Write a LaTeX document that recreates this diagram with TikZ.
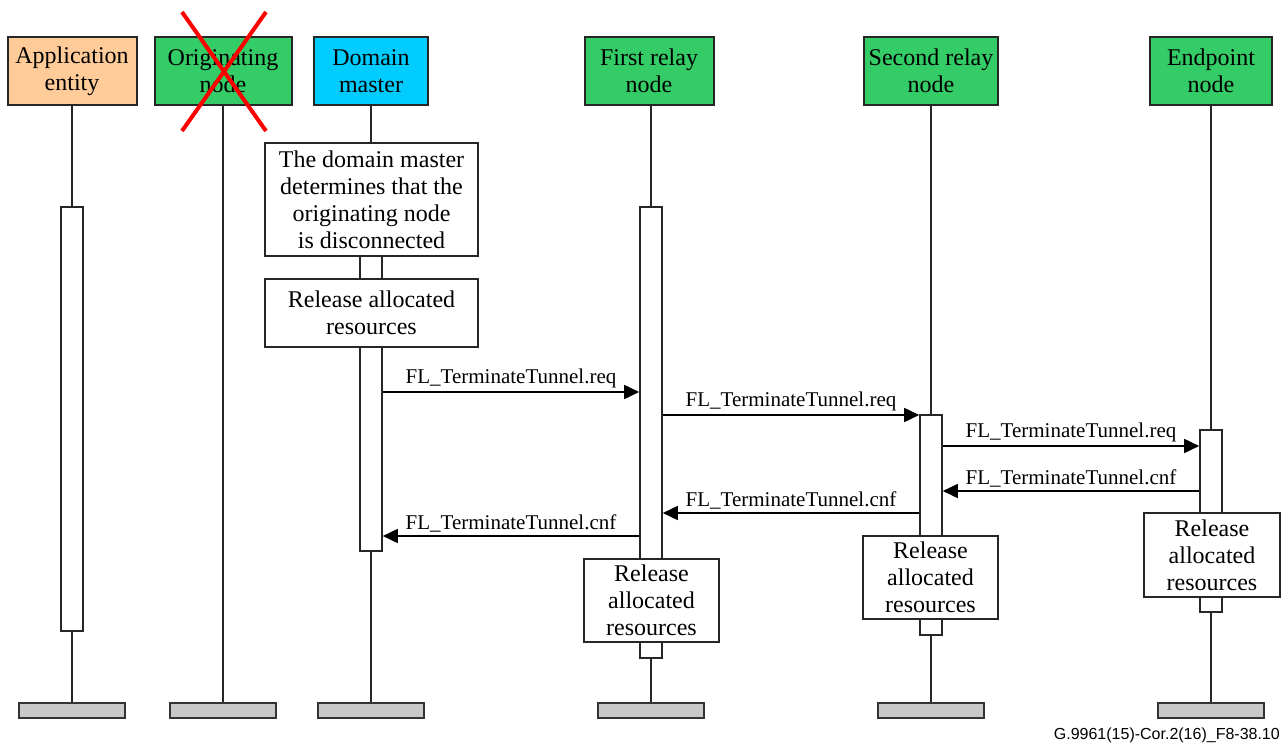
\documentclass[tikz,border=0pt]{standalone}
\usepackage{fontspec}
\setmainfont{Liberation Serif}
\newfontfamily\footfont{Liberation Sans}
\usetikzlibrary{arrows.meta,positioning}
\definecolor{peach}{HTML}{FFCC99}
\definecolor{nodegreen}{HTML}{33CC66}
\definecolor{dmcyan}{HTML}{00CCFF}
\definecolor{bargray}{HTML}{C8C8C8}
\begin{document}
\begin{tikzpicture}[x=1pt,y=-1pt,
  hdr/.style={draw=black!85, line width=2pt, minimum height=68pt, align=center,
    font=\fontsize{24}{27}\selectfont, inner sep=0pt},
  life/.style={draw=black!85, line width=1.6pt},
  act/.style={draw=black!85, fill=white, line width=1.6pt, minimum width=22pt, inner sep=0pt},
  note/.style={draw=black!85, fill=white, line width=2pt, align=center,
    font=\fontsize{24}{27}\selectfont, inner sep=0pt},
  endbar/.style={draw=black!80, fill=bargray, line width=1.8pt, minimum width=106pt, minimum height=15pt, inner sep=0pt},
  msg/.style={draw=black, line width=1.7pt, -{Triangle[length=15pt,width=14pt]}},
  lbl/.style={above=3pt, font=\fontsize{21}{23}\selectfont, inner sep=0pt}
]
\useasboundingbox (0,0) rectangle (1288,744);

% header boxes
\node[hdr, fill=peach, minimum width=129pt] (app) at (72,71) {Application\\entity};
\node[hdr, fill=nodegreen, minimum width=137pt] (orig) at (223,71) {Originating\\node};
\node[hdr, fill=dmcyan, minimum width=114pt] (dm) at (371,71) {Domain\\master};
\node[hdr, fill=nodegreen, minimum width=129pt] (fr) at (649,71) {First relay\\node};
\node[hdr, fill=nodegreen, minimum width=134pt] (sr) at (931,71) {Second relay\\node};
\node[hdr, fill=nodegreen, minimum width=122pt] (ep) at (1211,71) {Endpoint\\node};

% bottom bars
\node[endbar] (appbar) at (72,710.5) {};
\node[endbar] (origbar) at (223,710.5) {};
\node[endbar] (dmbar) at (371,710.5) {};
\node[endbar] (frbar) at (651,710.5) {};
\node[endbar] (srbar) at (931,710.5) {};
\node[endbar] (epbar) at (1211,710.5) {};

% lifelines
\draw[life] (app.south) -- (appbar.north);
\draw[life] (orig.south) -- (origbar.north);
\draw[life] (dm.south) -- (dmbar.north);
\draw[life] (fr.south -| frbar.north) -- (frbar.north);
\draw[life] (sr.south) -- (srbar.north);
\draw[life] (ep.south) -- (epbar.north);

% activation bars
\node[act, minimum height=424pt] (appact) at (72,419) {};
\node[act, minimum height=295pt] (dmact) at (371,403.5) {};
\node[act, minimum height=451pt] (fract) at (651,432.5) {};
\node[act, minimum height=220pt] (sract) at (931,525) {};
\node[act, minimum height=182pt] (epact) at (1211,521) {};

% notes
\node[note, minimum width=213pt, minimum height=113pt] (dmnote) at (371.5,199.5)
  {The domain master\\determines that the\\originating node\\is disconnected};
\node[note, minimum width=213pt, minimum height=68pt] (dmrel) at (371.5,313)
  {Release allocated\\resources};
\node[note, minimum width=135pt, minimum height=83pt] (frrel) at (651.5,600.5)
  {Release\\allocated\\resources};
\node[note, minimum width=135pt, minimum height=83pt] (srrel) at (930.5,577.5)
  {Release\\allocated\\resources};
\node[note, minimum width=136pt, minimum height=84pt] (eprel) at (1212,555)
  {Release\\allocated\\resources};

% messages
\draw[msg] (dmact.east |- 0,392) -- node[lbl] {FL\_TerminateTunnel.req} (fract.west |- 0,392);
\draw[msg] (fract.east |- 0,415) -- node[lbl] {FL\_TerminateTunnel.req} (sract.west |- 0,415);
\draw[msg] (sract.east |- 0,446) -- node[lbl] {FL\_TerminateTunnel.req} (epact.west |- 0,446);
\draw[msg] (epact.west |- 0,491) -- node[lbl] {FL\_TerminateTunnel.cnf} (sract.east |- 0,491);
\draw[msg] (sract.west |- 0,513) -- node[lbl] {FL\_TerminateTunnel.cnf} (fract.east |- 0,513);
\draw[msg] (fract.west |- 0,536) -- node[lbl] {FL\_TerminateTunnel.cnf} (dmact.east |- 0,536);

% red cross over originating node
\coordinate (xa) at (182,12);
\coordinate (xb) at (266,131);
\coordinate (xc) at (266,12);
\coordinate (xd) at (182,131);
\draw[red, line width=4pt] (xa) -- (xb) (xc) -- (xd);

% footer
\node[anchor=south east, font=\footfont\fontsize{16}{18}\selectfont, inner sep=0pt] (foot) at (1280,743)
  {G.9961(15)-Cor.2(16)\_F8-38.10};
\end{tikzpicture}
\end{document}
